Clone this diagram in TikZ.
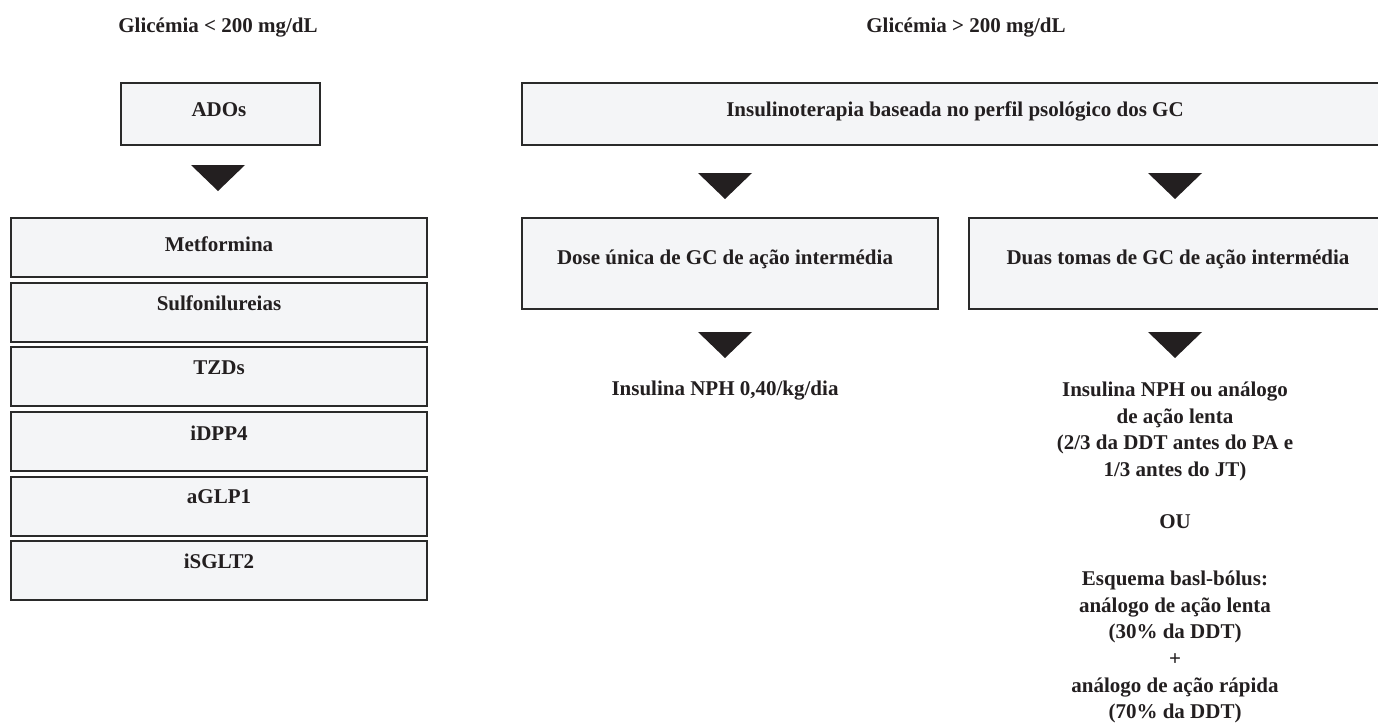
\documentclass[tikz,border=0pt]{standalone}
\usepackage{fontspec}
\setmainfont{Liberation Serif}
\definecolor{boxfill}{HTML}{F4F5F7}
\definecolor{boxline}{HTML}{2A2A2A}
\definecolor{ink}{HTML}{231F20}
\newcommand\downtri[2]{\fill[ink] ({#1-27},#2) -- ({#1+27},#2) -- (#1,{#2+26}) -- cycle;}
\begin{document}
\begin{tikzpicture}[x=1pt,y=-1pt,
  boxst/.style={draw=boxline, line width=1.4pt, fill=boxfill, inner sep=0pt, rectangle},
  txt/.style={font=\bfseries\fontsize{21}{26.7}\selectfont, text=ink, anchor=base, inner sep=0pt}]
\useasboundingbox (0,0) rectangle (1378,723);
\clip (0,0) rectangle (1378,723);
\fill[white] (0,0) rectangle (1378,723);

% headers
\node[txt] (hl) at (218,32) {Glicémia < 200 mg/dL};
\node[txt] (hr) at (966,32) {Glicémia > 200 mg/dL};

% left column
\node[boxst, minimum width=199pt, minimum height=62pt] (ados) at (220.5,114) {};
\node[txt] (adost) at (219,116) {ADOs};
\downtri{218}{165}

\foreach \t/\top/\base [count=\i] in {Metformina/218/251, Sulfonilureias/283/310, TZDs/347/374, iDPP4/412/440, aGLP1/477/503, iSGLT2/541/568}{
  \node[boxst, minimum width=416pt, minimum height=59pt] (l\i) at (219,{\top+29.5}) {};
  \node[txt] (lt\i) at (219,\base) {\t};
}

% right part
\node[boxst, minimum width=873pt, minimum height=62pt] (ins) at (958.5,114) {};
\node[txt] (inst) at (955,116) {Insulinoterapia baseada no perfil psológico dos GC};
\downtri{725}{173}
\downtri{1175}{173}

\node[boxst, minimum width=416pt, minimum height=91pt] (dose) at (730,263.5) {};
\node[txt] (doset) at (725,264) {Dose única de GC de ação intermédia};
\node[boxst, minimum width=426pt, minimum height=91pt] (duas) at (1182,263.5) {};
\node[txt] (duast) at (1178,264) {Duas tomas de GC de ação intermédia};
\downtri{725}{332}
\downtri{1175}{332}

\node[txt] (nph) at (725,395) {Insulina NPH 0,40/kg/dia};

\foreach \t/\b [count=\i] in {{Insulina NPH ou análogo}/396, {de ação lenta}/423, {(2/3 da DDT antes do PA e}/449, {1/3 antes do JT)}/476, {OU}/528, {Esquema basl-bólus:}/585, {análogo de ação lenta}/612, {(30\% da DDT)}/638, {+}/665, {análogo de ação rápida}/692, {(70\% da DDT)}/718}{
  \node[txt] (r\i) at (1175,\b) {\t};
}
\end{tikzpicture}
\end{document}
